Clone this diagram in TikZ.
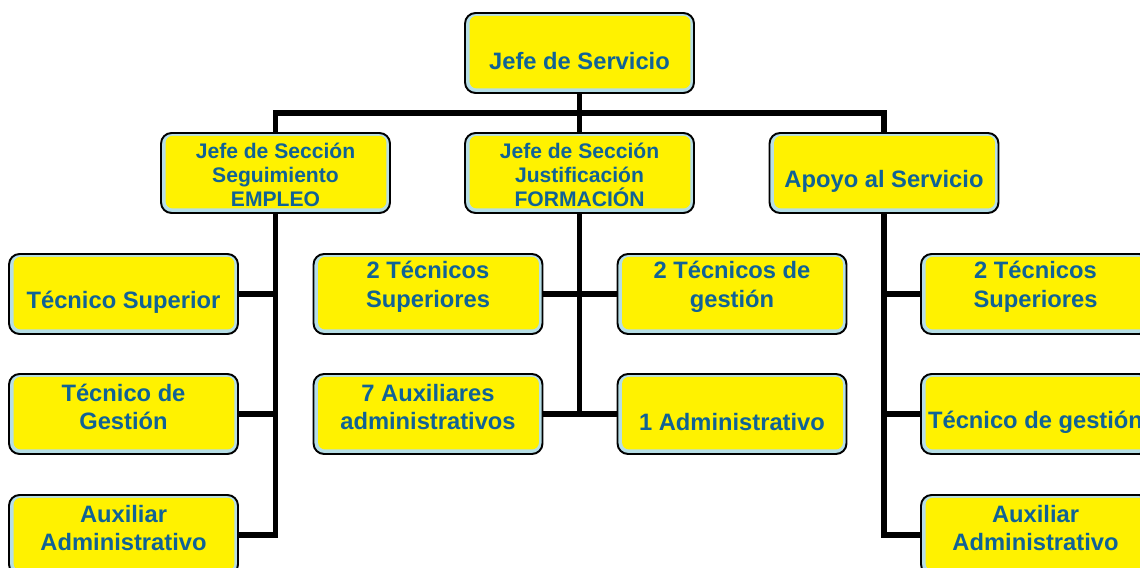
\documentclass[tikz,border=0pt]{standalone}
\usepackage{fontspec}
\setmainfont{Liberation Sans}
\definecolor{txtblue}{RGB}{16,98,150}
\definecolor{edgeblue}{RGB}{182,222,230}
\begin{document}
\begin{tikzpicture}[x=0.02cm,y=-0.02cm]
		\tikzstyle{unit}=[draw=black, line width=1.1pt, rounded corners=6pt, fill=edgeblue, minimum width=4.58cm, minimum height=1.6cm, inner sep=0pt,
			path picture={\fill[yellow, rounded corners=4pt] ([xshift=2.6pt,yshift=2.6pt]path picture bounding box.south west) rectangle ([xshift=-2pt,yshift=-1.6pt]path picture bounding box.north east);}]
		\tikzstyle{txt}=[text=txtblue, font=\bfseries\fontsize{13.5}{16.2}\selectfont, align=center, inner sep=0pt]
		\tikzstyle{small}=[font=\bfseries\fontsize{12}{13.6}\selectfont]
		\tikzstyle{one}=[yshift=-4.5pt]
		\tikzstyle{two}=[yshift=4pt]
		\tikzstyle{link}=[black, line width=3.4pt]
		\useasboundingbox (0,0) rectangle (1140,568);
		\clip (0,0) rectangle (1140,568);
		\node [unit, label={[txt,one]center:Jefe de Servicio}] (jefe) at (579.5,53) {};
		\node [unit, label={[txt,small,yshift=-1pt]center:Jefe de Sección\\Seguimiento\\EMPLEO}] (empleo) at (275.5,173) {};
		\node [unit, label={[txt,small,yshift=-1pt]center:Jefe de Sección\\Justificación\\FORMACIÓN}] (formacion) at (579.5,173) {};
		\node [unit, label={[txt,one]center:Apoyo al Servicio}] (apoyo) at (884,173) {};
		\node [unit, label={[txt,one]center:Técnico Superior}] (e1) at (123.5,294) {};
		\node [unit, label={[txt,two]center:Técnico de\\Gestión}] (e2) at (123.5,414) {};
		\node [unit, label={[txt,two]center:Auxiliar\\Administrativo}] (e3) at (123.5,535) {};
		\node [unit, label={[txt,two]center:2 Técnicos\\Superiores}] (f1) at (428,294) {};
		\node [unit, label={[txt,two]center:2 Técnicos de\\gestión}] (f2) at (732,294) {};
		\node [unit, label={[txt,two]center:7 Auxiliares\\administrativos}] (f3) at (428,414) {};
		\node [unit, label={[txt,one]center:1 Administrativo}] (f4) at (732,414) {};
		\node [unit, label={[txt,two]center:2 Técnicos\\Superiores}] (a1) at (1035.5,294) {};
		\node [unit, label={[txt,one]center:Técnico de gestión}] (a2) at (1035.5,414) {};
		\node [unit, label={[txt,two]center:Auxiliar\\Administrativo}] (a3) at (1035.5,535) {};
		\coordinate (bus) at (579.5,113);
		\draw [link] (jefe) -- (formacion);
		\draw [link] (empleo.north) |- (bus) -| (apoyo.north);
		\draw [link] (empleo.south) |- (e3.east);
		\draw [link] (e1.east) -- (e1.east -| empleo.south);
		\draw [link] (e2.east) -- (e2.east -| empleo.south);
		\draw [link] (formacion.south) -- (formacion.south |- f3.east);
		\draw [link] (f1) -- (f2);
		\draw [link] (f3) -- (f4);
		\draw [link] (apoyo.south) |- (a3.west);
		\draw [link] (a1.west) -- (a1.west -| apoyo.south);
		\draw [link] (a2.west) -- (a2.west -| apoyo.south);
	\end{tikzpicture}
\end{document}
